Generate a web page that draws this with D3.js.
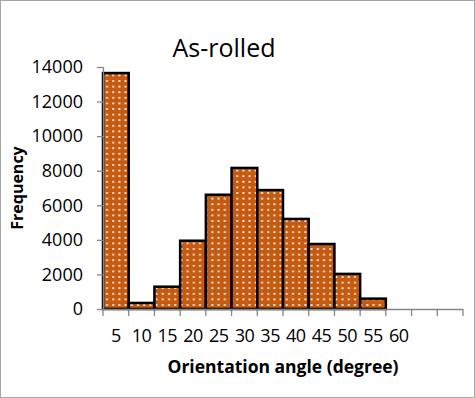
<!DOCTYPE html>
<html>
<head>
<meta charset="utf-8">
<script src="https://cdnjs.cloudflare.com/ajax/libs/d3/7.8.5/d3.min.js"></script>
<style>
  body { margin: 0; background: #fff; }
  svg { display: block; }
</style>
</head>
<body>
<svg id="chart"></svg>
<script>
// bins (upper edge of each 5 degree bin), last two slots are empty in the original
var categories = ["5", "10", "15", "20", "25", "30", "35", "40", "45", "50", "55", "60", "", " "];
var frequency = [13650, 350, 1290, 3950, 6610, 8160, 6880, 5210, 3760, 2030, 600, 0, 0, 0];
var yTicks = [0, 2000, 4000, 6000, 8000, 10000, 12000, 14000];

var W = 475, H = 398;
var margin = {top: 67, right: 12, bottom: 89, left: 103};
var width = W - margin.left - margin.right;
var height = H - margin.top - margin.bottom;

var svg = d3.select("#chart").attr("width", W).attr("height", H);

// dotted fill like the excel pattern
var defs = svg.append("defs");
var pat = defs.append("pattern")
    .attr("id", "dots")
    .attr("patternUnits", "userSpaceOnUse")
    .attr("x", 1).attr("y", 0)
    .attr("width", 6.2).attr("height", 5.6);
pat.append("rect").attr("width", 6.2).attr("height", 5.6).attr("fill", "#C55A11");
pat.append("rect").attr("x", 2).attr("y", 2).attr("width", 2).attr("height", 1.6).attr("fill", "#fff");

// chart area border
svg.append("rect")
    .attr("x", 0.5).attr("y", 0.5)
    .attr("width", W - 1).attr("height", H - 1)
    .attr("fill", "#fff").attr("stroke", "#a6a6a6");

var g = svg.append("g")
    .attr("transform", "translate(" + margin.left + "," + margin.top + ")");

var xScale = d3.scaleBand()
    .domain(categories)
    .range([0, width])
    .padding(0);

var yScale = d3.scaleLinear()
    .domain([0, 14000])
    .range([height, 0]);

// bars
g.selectAll(".bar")
    .data(frequency.map(function(v, i) { return {cat: categories[i], val: v}; }).filter(function(d) { return d.val > 0; }))
    .enter().append("rect")
    .attr("class", "bar")
    .attr("x", function(d) { return xScale(d.cat); })
    .attr("y", function(d) { return yScale(d.val); })
    .attr("width", xScale.bandwidth())
    .attr("height", function(d) { return height - yScale(d.val); })
    .attr("fill", "url(#dots)")
    .attr("stroke", "#000")
    .attr("stroke-width", 2.5);

// y axis
var yAxis = d3.axisLeft(yScale)
    .tickValues(yTicks)
    .tickSize(6)
    .tickPadding(14)
    .tickFormat(d3.format("d"));

var yg = g.append("g").attr("class", "yaxis").call(yAxis);
yg.selectAll("path, line").attr("stroke", "#868686").attr("stroke-width", 1.3);
yg.select(".domain").attr("d", "M0.5,0V" + height);
yg.selectAll("text")
    .attr("font-family", "Open Sans, sans-serif")
    .attr("font-size", 18)
    .attr("fill", "#000");

// x axis (ticks at category boundaries)
var xg = g.append("g")
    .attr("transform", "translate(0," + height + ")");
xg.append("line")
    .attr("x1", 0).attr("x2", width)
    .attr("y1", 0.5).attr("y2", 0.5)
    .attr("stroke", "#868686").attr("stroke-width", 1.3);
var edges = categories.map(function(c) { return xScale(c); }).concat([width]);
xg.selectAll(".xtick")
    .data(edges)
    .enter().append("line")
    .attr("x1", function(d) { return d; })
    .attr("x2", function(d) { return d; })
    .attr("y1", 0).attr("y2", 7)
    .attr("stroke", "#868686").attr("stroke-width", 1.3);
xg.selectAll(".xlab")
    .data(categories)
    .enter().append("text")
    .attr("x", function(d) { return xScale(d) + xScale.bandwidth() / 2; })
    .attr("y", 33)
    .attr("text-anchor", "middle")
    .attr("font-family", "Open Sans, sans-serif")
    .attr("font-size", 18)
    .attr("letter-spacing", -0.5)
    .attr("fill", "#000")
    .text(function(d) { return d.trim(); });

// title
svg.append("text")
    .attr("x", 224).attr("y", 57)
    .attr("text-anchor", "middle")
    .attr("font-family", "Open Sans, sans-serif")
    .attr("font-size", 25)
    .attr("fill", "#000")
    .text("As-rolled");

// axis titles
svg.append("text")
    .attr("transform", "translate(23,188) rotate(-90)")
    .attr("text-anchor", "middle")
    .attr("font-family", "Open Sans, sans-serif")
    .attr("font-weight", "bold")
    .attr("font-size", 16)
    .attr("fill", "#000")
    .text("Frequency");

svg.append("text")
    .attr("x", 283).attr("y", 373)
    .attr("text-anchor", "middle")
    .attr("font-family", "Open Sans, sans-serif")
    .attr("font-weight", "bold")
    .attr("font-size", 17.5)
    .attr("fill", "#000")
    .text("Orientation angle (degree)");
</script>
</body>
</html>
